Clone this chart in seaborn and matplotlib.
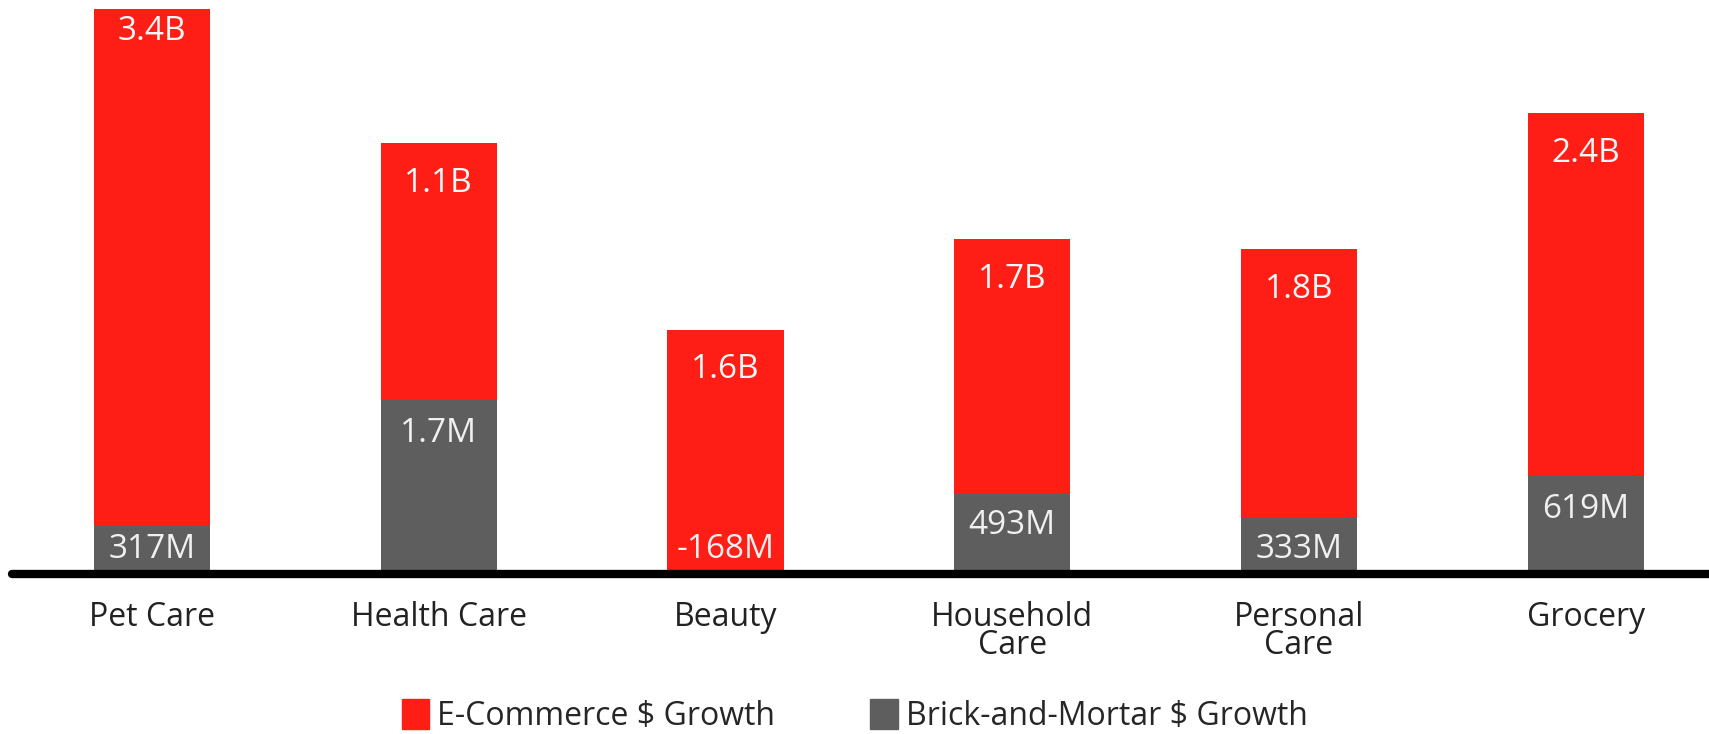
import numpy as np
import pandas as pd
import seaborn as sns
import matplotlib.pyplot as plt
from matplotlib.patches import Patch

# chart values (bar heights, relative units) + printed labels
categories = ['Pet Care', 'Health Care', 'Beauty', 'Household\nCare', 'Personal\nCare', 'Grocery']
total_height = [561, 427, 240, 331, 321, 457]      # red bar (stack top)
brick_height = [45, 170, 0, 77, 53, 94]            # grey part at the bottom
ecom_labels = ['3.4B', '1.1B', '1.6B', '1.7B', '1.8B', '2.4B']
brick_labels = ['317M', '1.7M', '-168M', '493M', '333M', '619M']

red = '#FE1E16'
grey = '#5E5E5E'

df = pd.DataFrame({'cat': categories, 'total': total_height, 'brick': brick_height})

sns.set_style('white')
plt.rcParams['font.family'] = ['Open Sans', 'DejaVu Sans']

fig = plt.figure(figsize=(17.09, 7.34), dpi=100)
ax = fig.add_axes([12/1709, 164/734, 1 - 12/1709, 570/734])

sns.barplot(data=df, x='cat', y='total', color=red, width=0.405, saturation=1,
            linewidth=0, ax=ax)
sns.barplot(data=df, x='cat', y='brick', color=grey, width=0.405, saturation=1,
            linewidth=0, ax=ax)

ax.set_ylim(0, 570)
ax.set_xlim(-0.488, 5.43)

for i in range(len(categories)):
    # label just inside the top of each segment (tighter when near the top edge)
    pad = 23 if total_height[i] > 540 else 40
    ax.text(i, total_height[i] - pad, ecom_labels[i], ha='center', va='center',
            color='#F7F7F7', fontsize=24)
    y = max(brick_height[i] - 33, 20)
    ax.text(i, y, brick_labels[i], ha='center', va='center', color='#F0F0F0', fontsize=24)

ax.axhline(-4, color='black', lw=6, zorder=5, clip_on=False)

for s in ['top', 'right', 'left', 'bottom']:
    ax.spines[s].set_visible(False)
ax.set_yticks([])
ax.set_xlabel('')
ax.set_ylabel('')
ax.tick_params(axis='x', length=0, pad=22, labelsize=23, labelcolor='#222222')
for lab in ax.get_xticklabels():
    lab.set_linespacing(0.8)

handles = [Patch(color=red, label='E-Commerce $ Growth'),
           Patch(color=grey, label='Brick-and-Mortar $ Growth')]
fig.legend(handles=handles, loc='center', bbox_to_anchor=(0.5, 0.025), ncol=2,
           frameon=False, handlelength=0.85, handleheight=1.1,
           handletextpad=0.25, columnspacing=3.0,
           prop={'family': ['Open Sans'], 'size': 23})

fig.savefig('out.png', dpi=100)
